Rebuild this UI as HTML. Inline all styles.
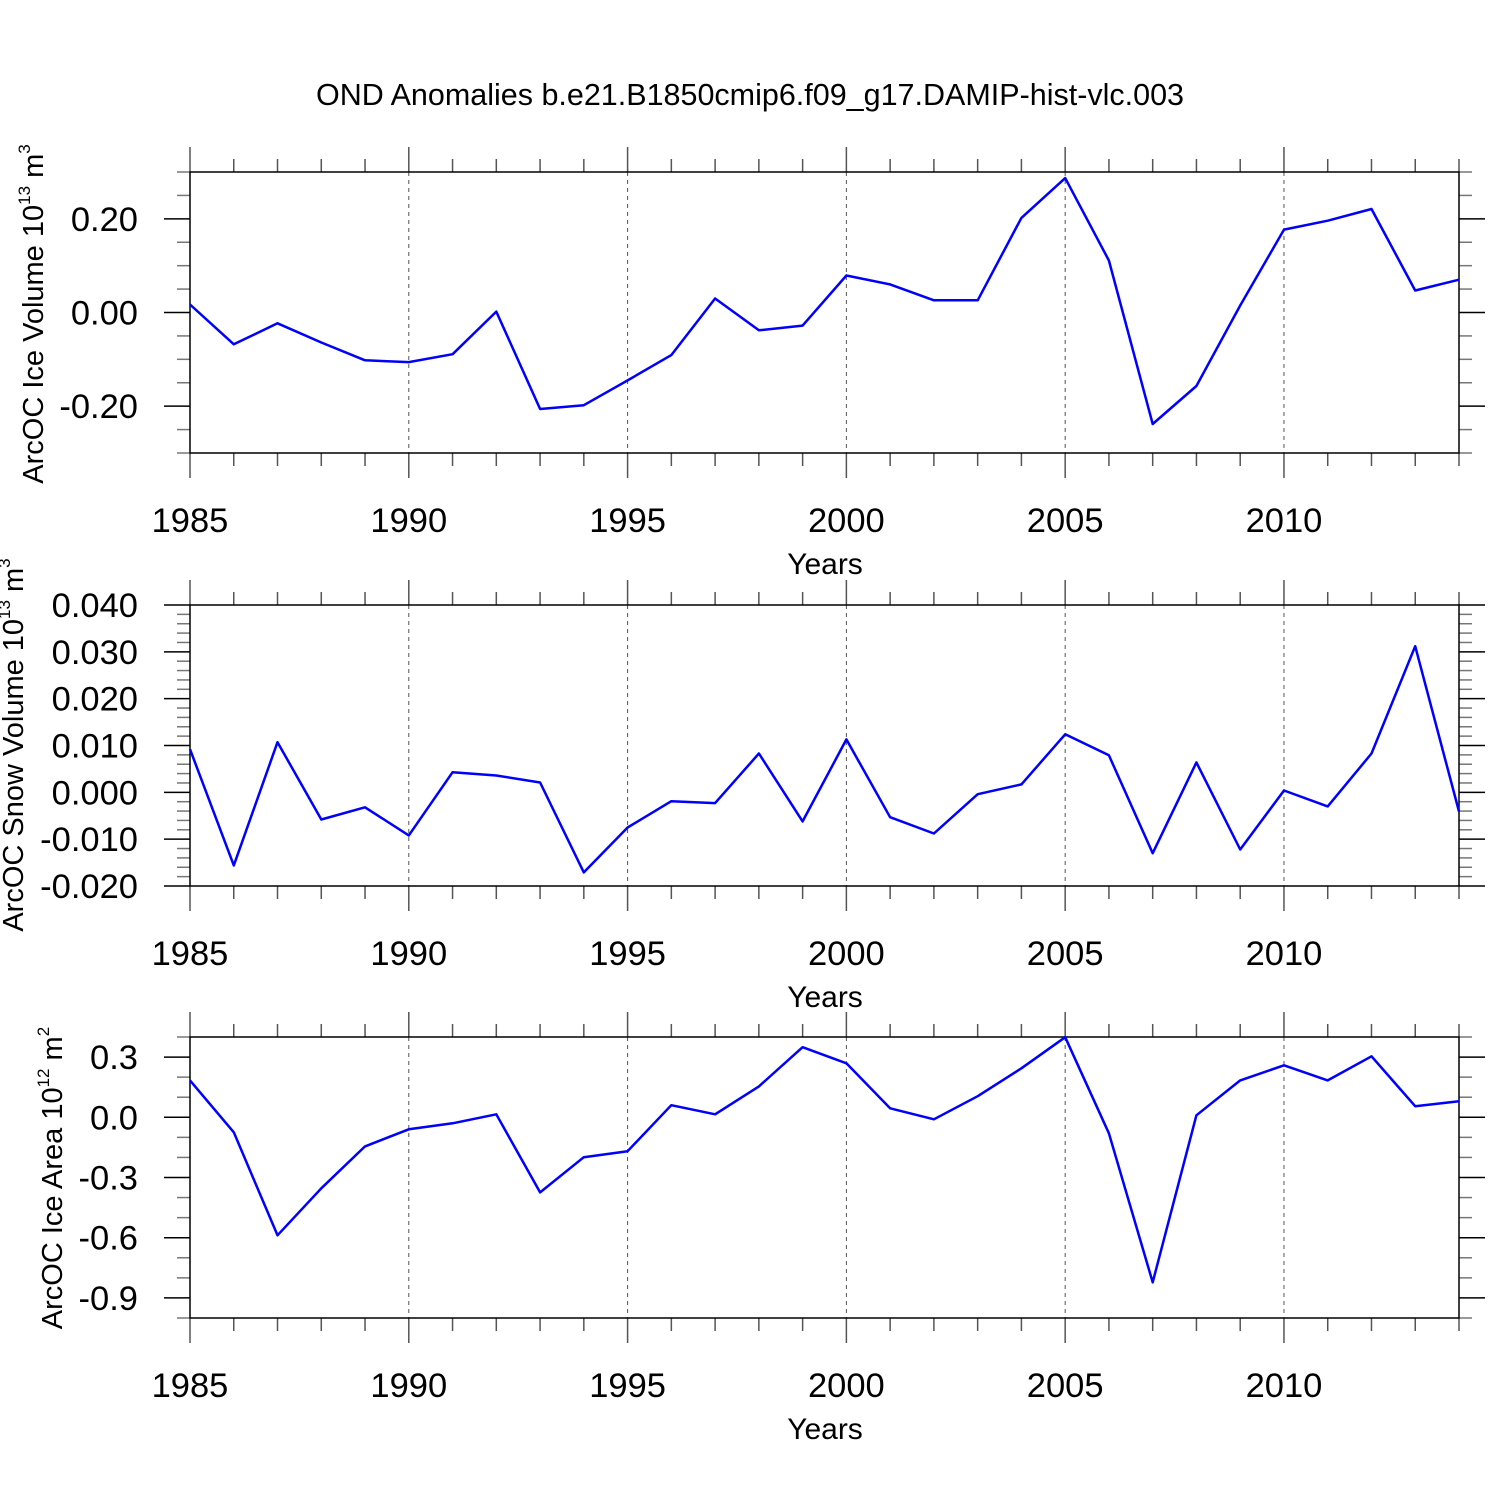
<!DOCTYPE html>
<html><head><meta charset="utf-8"><style>
body{margin:0;background:#fff}
svg{display:block}
text{font-family:"Liberation Sans",sans-serif;fill:#000}
</style></head><body>
<svg id="chart" width="1500" height="1500" xmlns="http://www.w3.org/2000/svg">
<text x="750" y="105" font-size="30.5" text-anchor="middle">OND Anomalies b.e21.B1850cmip6.f09_g17.DAMIP-hist-vlc.003</text>
</svg>
<script>
const years = [1985,1986,1987,1988,1989,1990,1991,1992,1993,1994,1995,1996,1997,1998,1999,2000,2001,2002,2003,2004,2005,2006,2007,2008,2009,2010,2011,2012,2013,2014];
const iceVolume = [0.017,-0.068,-0.023,-0.064,-0.102,-0.106,-0.089,0.002,-0.206,-0.198,-0.145,-0.091,0.030,-0.038,-0.028,0.079,0.060,0.026,0.026,0.202,0.287,0.111,-0.238,-0.157,0.015,0.177,0.196,0.221,0.047,0.070];
const snowVolume = [0.0092,-0.0156,0.0107,-0.0058,-0.0032,-0.0092,0.0043,0.0036,0.0021,-0.0171,-0.0075,-0.0019,-0.0023,0.0083,-0.0062,0.0113,-0.0053,-0.0088,-0.0004,0.0017,0.0124,0.0079,-0.0130,0.0064,-0.0122,0.0004,-0.0030,0.0083,0.0312,-0.0041];
const iceArea = [0.184,-0.075,-0.588,-0.354,-0.145,-0.060,-0.030,0.015,-0.374,-0.199,-0.169,0.060,0.015,0.154,0.349,0.269,0.045,-0.010,0.105,0.244,0.399,-0.080,-0.822,0.010,0.184,0.259,0.184,0.304,0.055,0.080];
const xTicks = [1985,1990,1995,2000,2005,2010];
const volTicks = [-0.2,0,0.2];
const volTickLabels = ["-0.20","0.00","0.20"];
const snowTicks = [-0.02,-0.01,0,0.01,0.02,0.03,0.04];
const snowTickLabels = ["-0.020","-0.010","0.000","0.010","0.020","0.030","0.040"];
const areaTicks = [-0.9,-0.6,-0.3,0,0.3];
const areaTickLabels = ["-0.9","-0.6","-0.3","0.0","0.3"];

const svg = document.getElementById('chart');
const NS = 'http://www.w3.org/2000/svg';
function mk(tag, attrs, parent){const e=document.createElementNS(NS,tag);for(const k in attrs)e.setAttribute(k,attrs[k]);(parent||svg).appendChild(e);return e;}
const X0=190, X1=1459, XMIN=1985, XMAX=2014;
function xs(v){return X0+(v-XMIN)/(XMAX-XMIN)*(X1-X0);}

function panel(name, top, ymin, ymax, minorStep, ticks, labels, data, ylabelHtml, ylabelX, ylabelY){
  const bot=top+281;
  const ys=v=>bot-(v-ymin)/(ymax-ymin)*(bot-top);
  const g=mk('g',{});
  
  
  xTicks.forEach(t=>{ if(t>XMIN){
    const l=mk('line',{x1:xs(t),x2:xs(t),y1:top,y2:bot,stroke:'#555','stroke-width':1,'stroke-dasharray':'4,4'},g);
    
    
  }});
  years.forEach(yr=>{
    const major=xTicks.includes(yr); const len=major?25:13;
    mk('line',{x1:xs(yr),x2:xs(yr),y1:top-len,y2:top,stroke:'#555','stroke-width':1.5},g);
    mk('line',{x1:xs(yr),x2:xs(yr),y1:bot,y2:bot+len,stroke:'#555','stroke-width':1.5},g);
  });
  const n=Math.round((ymax-ymin)/minorStep);
  for(let i=0;i<=n;i++){const v=ymin+i*minorStep;const y=ys(v);
    const major=ticks.some(t=>Math.abs(t-v)<minorStep/10);const len=major?26:13;
    mk('line',{x1:X0-len,x2:X0,y1:y,y2:y,stroke:major?'#000':'#777','stroke-width':1.5},g);
    mk('line',{x1:X1,x2:X1+len,y1:y,y2:y,stroke:major?'#000':'#777','stroke-width':1.5},g);
  }
  ticks.forEach((t,i)=>{
    const tx=mk('text',{x:138,y:ys(t)+12,'font-size':34.5,'text-anchor':'end'},g);
    tx.textContent=labels[i];
    
    
  });
  xTicks.forEach(t=>{
    const tx=mk('text',{x:xs(t),y:bot+79,'font-size':34.5,'text-anchor':'middle'},g);
    tx.textContent=String(t);
    
    
  });
  const xt=mk('text',{x:825,y:bot+121,'font-size':30,'text-anchor':'middle'},g);
  xt.textContent='Years';
  
  
  const yt=mk('text',{x:0,y:0,'font-size':29,'text-anchor':'middle',transform:`translate(${ylabelX},${ylabelY}) rotate(-90)`},g);
  yt.innerHTML=ylabelHtml;
  
  
  mk('rect',{x:X0,y:top,width:X1-X0,height:bot-top,fill:'none',stroke:'#000','stroke-width':1.5},g);
  const pts=data.map((v,i)=>xs(years[i]).toFixed(1)+','+ys(v).toFixed(1)).join(' ');
  const pl=mk('polyline',{points:pts,fill:'none',stroke:'#0000ff','stroke-width':2.5,'stroke-linejoin':'round'},g);
  
  
}
panel('ice-volume',172,-0.3,0.3,0.05,volTicks,volTickLabels,iceVolume,
 'ArcOC Ice Volume 10<tspan font-size="17" dy="-13">13</tspan><tspan dy="13"> m</tspan><tspan font-size="17" dy="-13">3</tspan>',43,314);
panel('snow-volume',605,-0.02,0.04,0.002,snowTicks,snowTickLabels,snowVolume,
 'ArcOC Snow Volume 10<tspan font-size="17" dy="-13">13</tspan><tspan dy="13"> m</tspan><tspan font-size="17" dy="-13">3</tspan>',23,745);
panel('ice-area',1037,-1.0,0.4,0.1,areaTicks,areaTickLabels,iceArea,
 'ArcOC Ice Area 10<tspan font-size="17" dy="-13">12</tspan><tspan dy="13"> m</tspan><tspan font-size="17" dy="-13">2</tspan>',62,1178);
</script>
</body></html>
